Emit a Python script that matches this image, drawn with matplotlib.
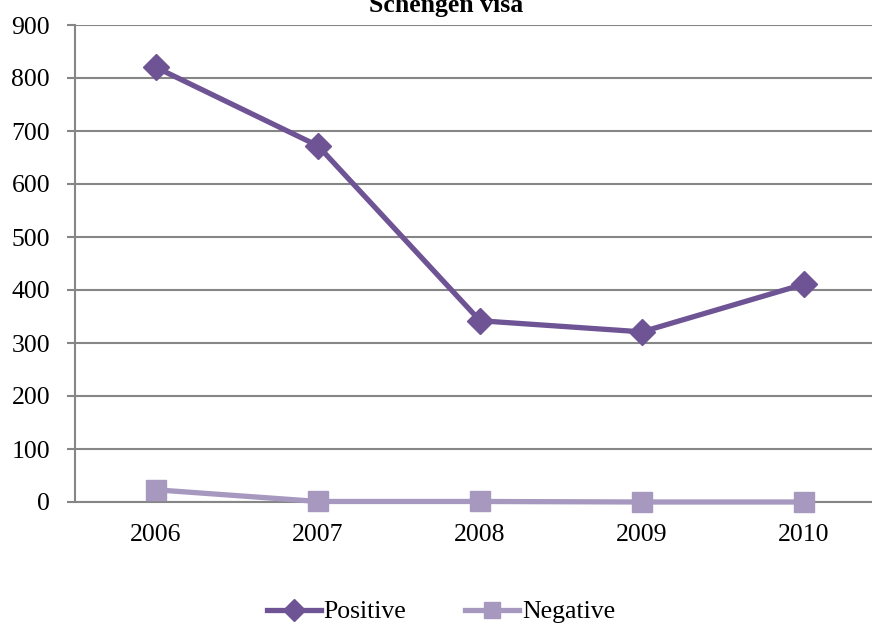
import numpy as np
import matplotlib.pyplot as plt

years = ['2006', '2007', '2008', '2009', '2010']
positive = [820, 672, 342, 321, 411]
negative = [23, 1, 1, 0, 0]

plt.rcParams['font.family'] = ['Liberation Serif', 'DejaVu Serif']

fig = plt.figure(figsize=(8.72, 6.25), dpi=100)
# plot area runs past the right edge, as in the original screenshot
ax = fig.add_axes([75/872, 1-502/625, 810/872, 477/625])

x = np.arange(len(years))
ax.plot(x, positive, color='#6E5494', lw=3.8, marker='D', markersize=13,
        label='Positive', clip_on=False, zorder=4)
ax.plot(x, negative, color='#A698BE', lw=3.8, marker='s', markersize=14,
        label='Negative', clip_on=False, zorder=3)

ax.set_xlim(-0.5, len(years) - 0.5)
ax.set_ylim(0, 900)
ax.set_yticks(range(0, 901, 100))
ax.set_xticks(x, years)
ax.tick_params(axis='y', labelsize=18.5, length=6, color='#868686', width=1.5,
               pad=12)
ax.tick_params(axis='x', labelsize=18.5, length=0, pad=16)
ax.grid(axis='y', color='#868686', lw=1.5)
ax.set_axisbelow(True)
for s in ['top', 'right']:
    ax.spines[s].set_visible(False)
for s in ['left', 'bottom']:
    ax.spines[s].set_color('#868686')
    ax.spines[s].set_linewidth(1.5)

fig.text(446/872, 1-12/625, 'Schengen visa', ha='center', va='baseline',
         fontsize=18.5, fontweight='bold')

fig.legend(loc='center', bbox_to_anchor=(441/872, 1-612/625), ncol=2,
           frameon=False, fontsize=18.5, handlelength=2.1, handletextpad=0.1,
           columnspacing=2.3, markerscale=0.85)

fig.savefig('out.png', dpi=100)
